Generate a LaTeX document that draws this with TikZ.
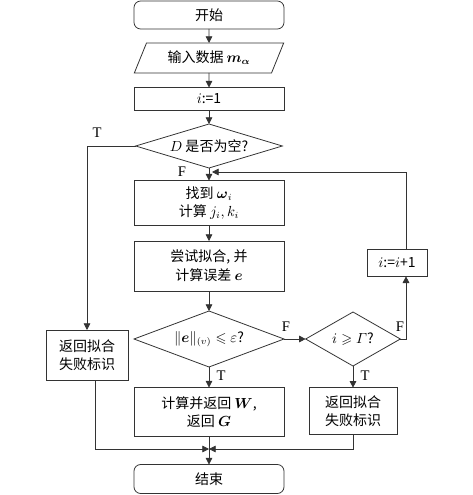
\documentclass[tikz,border=0pt]{standalone}
\usepackage{amsmath,amssymb}
\usepackage{fontspec}
\setmainfont{Liberation Serif}
\newfontfamily\cjk{Noto Sans CJK SC}
\usetikzlibrary{shapes.geometric,arrows.meta}

\begin{document}
\begin{tikzpicture}[x=0.75pt,y=-0.75pt,
  every node/.style={outer sep=0pt, inner sep=0pt, align=center, font=\cjk\fontsize{10.5}{14}\selectfont},
  box/.style={draw=black!80, line width=0.6pt},
  term/.style={box, rounded corners=5pt},
  decision/.style={box, diamond},
  flow/.style={draw=black!80, line width=0.6pt, -{Triangle[length=5pt,width=5pt]}},
  tag/.style={font=\fontsize{11}{13}\selectfont}]
\useasboundingbox (0,0) rectangle (472,495);
% main column
\node[term, minimum width=112.5pt, minimum height=21pt] (start) at (209,15) {开始};
\node[box, trapezium, trapezium left angle=60, trapezium right angle=120, trapezium stretches=true, minimum width=112.5pt, minimum height=22.5pt] (input) at (209,58) {输入数据 $\boldsymbol{m}_{\boldsymbol{\alpha}}$};
\node[box, minimum width=112.5pt, minimum height=17.25pt] (init) at (209,99) {$i$:=1};
\node[decision, aspect=3.3, minimum width=110pt, minimum height=33pt] (isEmpty) at (209,146) {$D$ 是否为空?};
\node[box, minimum width=112.5pt, minimum height=33.75pt] (find) at (209,203) {找到 $\boldsymbol{\omega}_i$\\计算 $j_i, k_i$};
\node[box, minimum width=112.5pt, minimum height=37.5pt] (fit) at (209,266) {尝试拟合, 并\\计算误差 $\boldsymbol{e}$};
\node[decision, aspect=2.7, minimum width=112.5pt, minimum height=42pt] (errTest) at (209,339) {$\|\boldsymbol{e}\|_{(v)}\leqslant\varepsilon$?};
\node[box, minimum width=112.5pt, minimum height=36.75pt] (calc) at (209,412) {计算并返回 $\boldsymbol{W}$,\\返回 $\boldsymbol{G}$};
\node[term, minimum width=112.5pt, minimum height=21.75pt] (finish) at (209,479) {结束};
% side branches
\node[box, minimum width=61.5pt, minimum height=37.5pt] (failL) at (87,355) {返回拟合\\失败标识};
\node[decision, aspect=1.75, minimum width=71pt, minimum height=40.5pt] (idxTest) at (353,339) {$i\geqslant\varGamma$?};
\node[box, minimum width=66pt, minimum height=35pt] (failR) at (353,411) {返回拟合\\失败标识};
\node[box, minimum width=45pt, minimum height=20pt] (incr) at (397,263) {$i$:=$i$+1};
\coordinate (bend) at (406,339);
\coordinate (loopIn) at (212,172);
\coordinate (merge) at (209,449);
% connectors
\draw[flow] (start) -- (input);
\draw[flow] (input) -- (init);
\draw[flow] (init) -- (isEmpty);
\draw[flow] (isEmpty) -- (find);
\draw[flow] (isEmpty.west) -| (failL.north);
\draw[flow] (find) -- (fit);
\draw[flow] (fit) -- (errTest);
\draw[flow] (errTest) -- (calc);
\draw[flow] (errTest.east) -- (idxTest.west);
\draw[flow] (idxTest.east) -- (bend) -- (bend |- incr.south);
\draw[flow] (bend |- incr.north) |- (loopIn);
\draw[flow] (idxTest) -- (failR);
\draw[flow] (calc) -- (finish);
\draw[flow] ([xshift=6pt]failL.south) |- (merge);
\draw[flow] (failR) |- (merge);
% branch labels
\node[tag] (tagT) at (97,133) {T};
\node[tag] (tagF) at (182,172) {F};
\node[tag] (errF) at (286,327) {F};
\node[tag] (errT) at (221,376) {T};
\node[tag] (idxF) at (400,327) {F};
\node[tag] (idxT) at (365,376) {T};
\end{tikzpicture}
\end{document}
